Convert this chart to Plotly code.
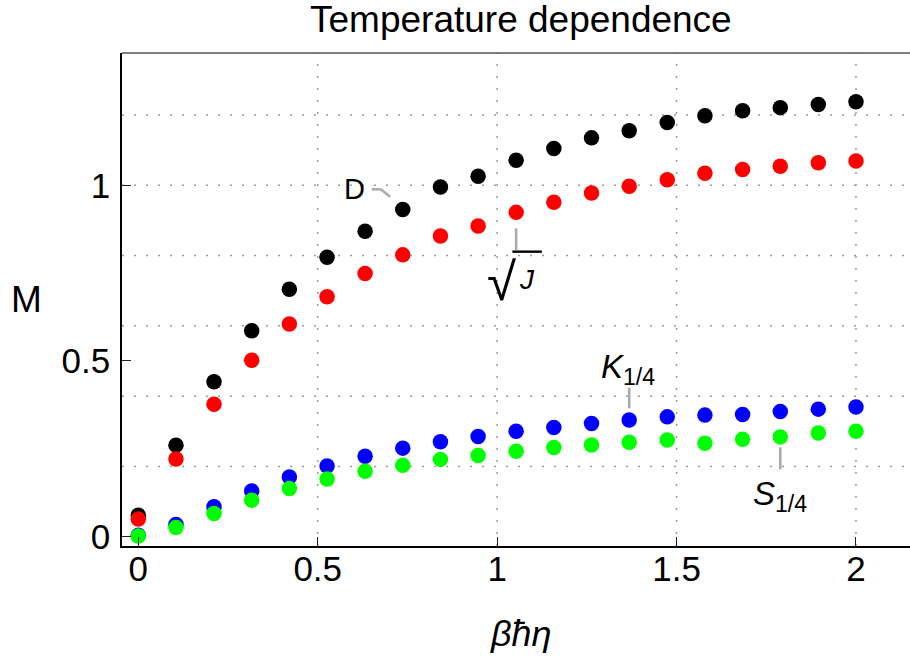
import plotly.graph_objects as go

# ---- data ----
beta_hbar_eta = [0.0, 0.105, 0.211, 0.316, 0.421, 0.526, 0.632, 0.737, 0.842, 0.947,
                 1.053, 1.158, 1.263, 1.368, 1.474, 1.579, 1.684, 1.789, 1.895, 2.0]
D_vals = [0.061, 0.260, 0.441, 0.586, 0.704, 0.795, 0.869, 0.931, 0.995, 1.026,
          1.071, 1.105, 1.135, 1.155, 1.179, 1.198, 1.212, 1.221, 1.230, 1.238]
sqrtJ_vals = [0.050, 0.221, 0.377, 0.502, 0.605, 0.683, 0.749, 0.802, 0.856, 0.884,
              0.923, 0.952, 0.978, 0.997, 1.016, 1.034, 1.045, 1.054, 1.064, 1.069]
K_vals = [0.004, 0.035, 0.085, 0.130, 0.170, 0.201, 0.229, 0.252, 0.270, 0.285,
          0.300, 0.311, 0.322, 0.332, 0.341, 0.346, 0.348, 0.356, 0.363, 0.369]
S_vals = [0.002, 0.026, 0.066, 0.104, 0.137, 0.164, 0.186, 0.203, 0.220, 0.231,
          0.243, 0.254, 0.261, 0.269, 0.275, 0.266, 0.277, 0.284, 0.295, 0.300]

x_ticks = [0, 0.5, 1, 1.5, 2]
x_tick_text = ["0", "0.5", "1", "1.5", "2"]
y_ticks = [0, 0.5, 1]
y_tick_text = ["0", "0.5", "1"]
x_grid = [0.5, 1, 1.5, 2]
y_grid = [0.2, 0.4, 0.6, 0.8, 1.0, 1.2]

FONT = "Liberation Sans"
MS = 15.5
W, H = 910, 658

fig = go.Figure()
for vals, col, name in [(D_vals, "#000000", "D"), (sqrtJ_vals, "#ff0000", "√J"),
                        (K_vals, "#0000ff", "K1/4"), (S_vals, "#00ff00", "S1/4")]:
    fig.add_trace(go.Scatter(x=beta_hbar_eta, y=vals, mode="markers", name=name,
                             marker=dict(color=col, size=MS, line=dict(width=0)),
                             showlegend=False, cliponaxis=False))

# grid (dotted)
GRID = dict(color="#9a9a9a", width=1.5, dash="2px,10px")
for gx in x_grid:
    fig.add_shape(type="line", xref="x", yref="paper", x0=gx, x1=gx, y0=0, y1=1,
                  line=GRID, layer="below")
for gy in y_grid:
    fig.add_shape(type="line", xref="paper", yref="y", x0=0, x1=1, y0=gy, y1=gy,
                  line=GRID, layer="below")
# top frame line
fig.add_shape(type="line", xref="paper", yref="paper", x0=0, x1=1, y0=1, y1=1,
              line=dict(color="#555555", width=1.5))

# leader lines anchored at data points (pixel offsets)
LEAD = dict(color="#aaaaaa", width=2.6)
def leader(xa, ya, x0, y0, x1, y1):
    fig.add_shape(type="line", xsizemode="pixel", ysizemode="pixel",
                  xanchor=xa, yanchor=ya, x0=x0, y0=y0, x1=x1, y1=y1, line=LEAD)

i = 7
leader(beta_hbar_eta[i], D_vals[i], -12.7, 12.8, -22, 20.2)
leader(beta_hbar_eta[i], D_vals[i], -22, 20.2, -31, 20.2)
j = 10
leader(beta_hbar_eta[j], sqrtJ_vals[j], 0, -15.9, 0, -37.6)
k = 13
leader(beta_hbar_eta[k], K_vals[k], 0, 11.7, 0, 32.3)
s = 17
leader(beta_hbar_eta[s], S_vals[s], 0, -10.4, 0, -32.4)
# vinculum of the square root
fig.add_shape(type="line", xsizemode="pixel", ysizemode="pixel",
              xanchor=beta_hbar_eta[j], yanchor=sqrtJ_vals[j],
              x0=-3.8, y0=-39.3, x1=25.7, y1=-39.3, line=dict(color="#000000", width=2.4))

def ann(text, x, y, xs, ys, size, **kw):
    fig.add_annotation(text=text, x=x, y=y, xshift=xs, yshift=ys, showarrow=False,
                       font=dict(family=FONT, size=size, color="#000000"),
                       xanchor="center", yanchor="middle", **kw)

ann("D", beta_hbar_eta[i], D_vals[i], -48.7, 20.5, 29)
ann("√", beta_hbar_eta[j], sqrtJ_vals[j], -14.5, -69, 53)
ann("<i>J</i>", beta_hbar_eta[j], sqrtJ_vals[j], 10.5, -67.6, 28)
ann("<i>K</i><sub>1/4</sub>", beta_hbar_eta[k], K_vals[k], -1.4, 51, 33)
ann("<i>S</i><sub>1/4</sub>", beta_hbar_eta[s], S_vals[s], 0, -59, 33)

L, R, T, B = 122, 910, 53, 546
def px(xp): return (xp - L) / (R - L)
def py(yp): return (B - yp) / (B - T)

# title and axis labels (positions given in page pixels)
fig.add_annotation(text="Temperature dependence", xref="paper", yref="paper",
                   x=px(521), y=py(19), showarrow=False, xanchor="center", yanchor="middle",
                   font=dict(family=FONT, size=37, color="#000000"))
fig.add_annotation(text="M", xref="paper", yref="paper", x=px(26), y=py(299),
                   showarrow=False, xanchor="center", yanchor="middle",
                   font=dict(family=FONT, size=37, color="#000000"))
fig.add_annotation(text="<i>βħη</i>", xref="paper", yref="paper", x=px(521), y=py(633),
                   showarrow=False, xanchor="center", yanchor="middle",
                   font=dict(family=FONT, size=36, color="#000000"))

fig.update_xaxes(range=[-0.0454, 2.1505], tickvals=x_ticks, ticktext=x_tick_text,
                 ticks="inside", ticklen=9, tickwidth=1, tickcolor="#222222",
                 showgrid=False, zeroline=False, showline=True, linecolor="#000000",
                 linewidth=1.5, tickfont=dict(family=FONT, size=35, color="#000000"),
                 ticklabelstandoff=-9)
fig.update_yaxes(range=[-0.0265, 1.3765], tickvals=y_ticks, ticktext=y_tick_text,
                 ticks="inside", ticklen=9, tickwidth=1, tickcolor="#222222",
                 showgrid=False, zeroline=False, showline=True, linecolor="#000000",
                 linewidth=1.5, tickfont=dict(family=FONT, size=35, color="#000000"),
                 ticklabelstandoff=3)

fig.update_layout(width=W, height=H, margin=dict(l=L, r=W - R, t=T, b=H - B),
                  plot_bgcolor="#ffffff", paper_bgcolor="#ffffff", showlegend=False)

# remove the page's default 8px body margin so the figure fills the window exactly
fig.write_html("out.html", config={"displayModeBar": False},
               post_script="document.body.style.margin='0px';document.body.style.overflow='hidden';")
